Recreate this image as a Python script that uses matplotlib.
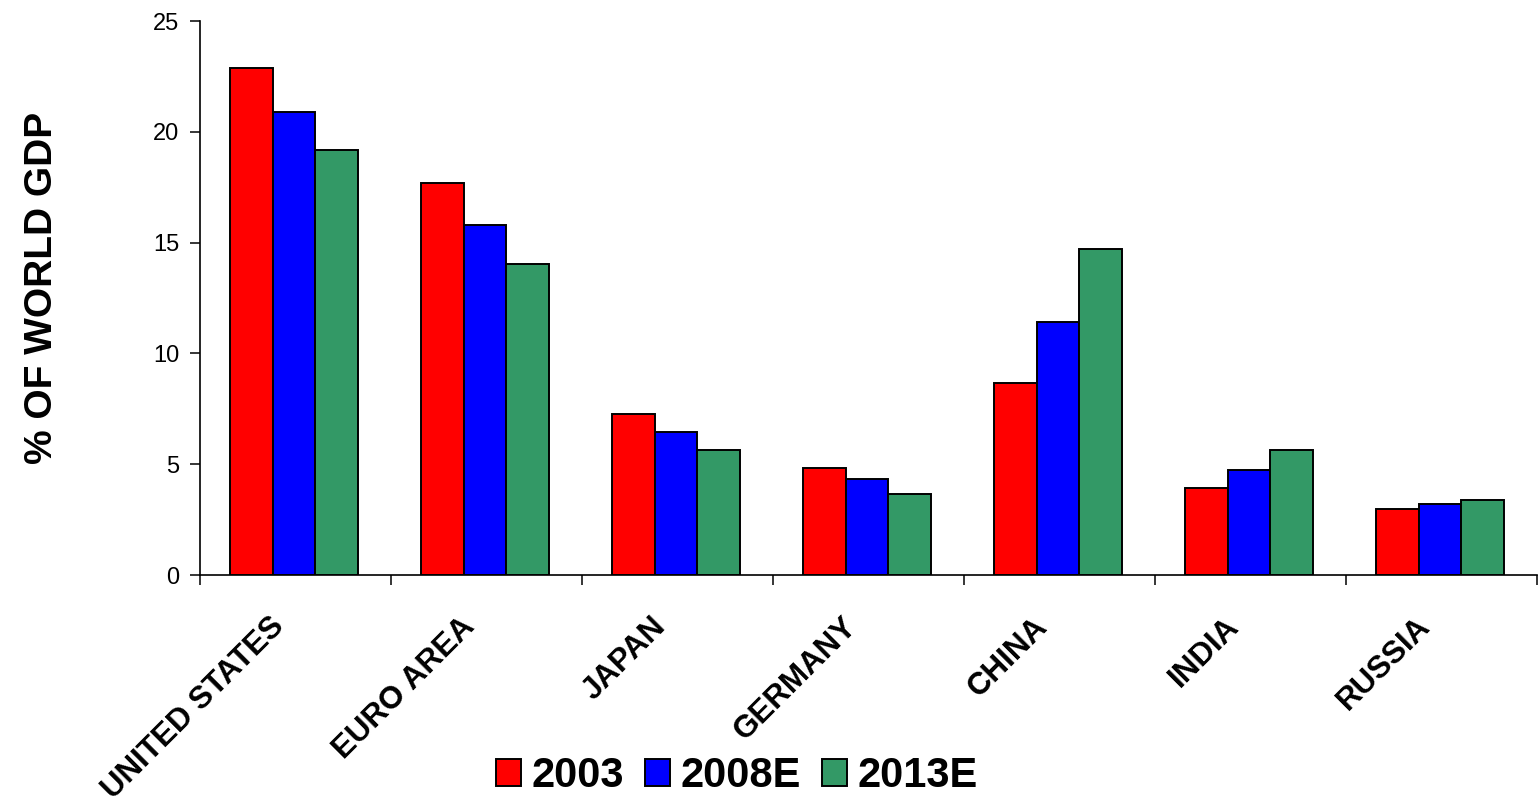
import matplotlib
matplotlib.use("Agg")
import matplotlib.pyplot as plt
import numpy as np

categories = ["UNITED STATES", "EURO AREA", "JAPAN", "GERMANY", "CHINA", "INDIA", "RUSSIA"]
series_names = ["2003", "2008E", "2013E"]
vals_2003 = [22.87, 17.69, 7.25, 4.83, 8.66, 3.94, 2.96]
vals_2008 = [20.91, 15.81, 6.45, 4.32, 11.42, 4.74, 3.22]
vals_2013 = [19.19, 14.03, 5.64, 3.67, 14.71, 5.64, 3.40]
colors = ["#FF0000", "#0000FF", "#339966"]
yticks = [0, 5, 10, 15, 20, 25]

plt.rcParams['font.family'] = ['Liberation Sans', 'DejaVu Sans']

W, H = 1539, 807
fig = plt.figure(figsize=(W / 100, H / 100), dpi=100)
ax = fig.add_axes([200 / W, 1 - 575 / H, (1537 - 200) / W, (575 - 21) / H])

x = np.arange(len(categories))
bw = 0.2235
series = [vals_2003, vals_2008, vals_2013]
handles = []
for k, (vals, c, name) in enumerate(zip(series, colors, series_names)):
    b = ax.bar(x + (k - 1) * bw - 0.008, vals, width=bw, color=c, edgecolor="black",
               linewidth=1.4, label=name, zorder=3)
    handles.append(b)

ax.set_xlim(-0.5, len(categories) - 0.5)
ax.set_ylim(0, 25)
ax.set_yticks(yticks)
ax.set_yticklabels([str(v) for v in yticks], fontsize=17)
ax.set_xticks(np.arange(len(categories) + 1) - 0.5)
ax.set_xticklabels([])
ax.tick_params(axis='y', direction='out', length=7, width=1.1, pad=8)
ax.tick_params(axis='x', direction='out', length=7, width=1.1)
for s in ["top", "right"]:
    ax.spines[s].set_visible(False)
for s in ["left", "bottom"]:
    ax.spines[s].set_linewidth(1.2)

trans = ax.get_xaxis_transform()
for i, cat in enumerate(categories):
    ax.text(i - 0.14, -0.066, cat, transform=trans, rotation=45, rotation_mode='anchor',
            ha='right', va='top', fontsize=22.5, fontweight='bold', clip_on=False)

fig.text(42 / W, 1 - 288 / H, "% OF WORLD GDP", rotation=90, ha='center', va='center',
         fontsize=28, fontweight='bold')

fig.legend(handles=handles, labels=series_names, loc='center',
           bbox_to_anchor=(737 / W, 1 - 776 / H), ncol=3, frameon=False,
           prop={'weight': 'bold', 'size': 30}, handlelength=0.6, handleheight=0.6,
           handletextpad=0.26, columnspacing=0.5, borderpad=0, borderaxespad=0)

fig.savefig("out.png", dpi=100, facecolor="white")
